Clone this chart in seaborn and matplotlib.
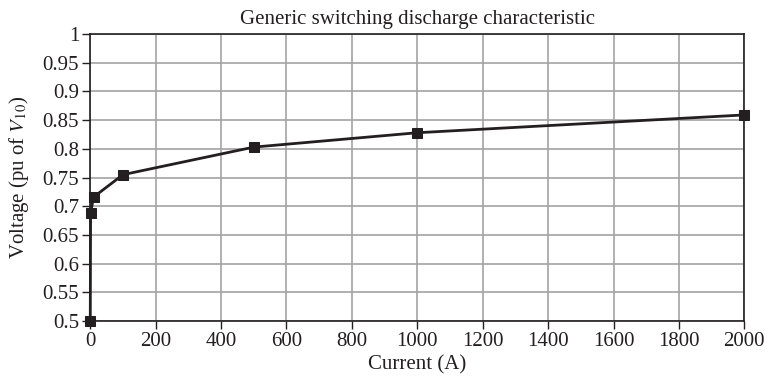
import pandas as pd
import seaborn as sns
import matplotlib.pyplot as plt

# Discharge characteristic
current = [0, 1, 10, 100, 500, 1000, 2000]
voltage = [0.5, 0.688, 0.716, 0.755, 0.803, 0.828, 0.859]

df = pd.DataFrame({'Current': current, 'Voltage': voltage})

sns.set_style('whitegrid')
plt.rcParams['font.family'] = ['Liberation Serif', 'DejaVu Serif']
plt.rcParams['mathtext.fontset'] = 'stix'

fig = plt.figure(figsize=(7.65, 3.81), dpi=100)
ax = fig.add_axes([0.118, 0.157, 0.855, 0.754])

sns.lineplot(data=df, x='Current', y='Voltage', ax=ax, color='#231f20',
             marker='s', markersize=7.5, markeredgecolor='#231f20', linewidth=2,
             sort=False, clip_on=False, zorder=5)

ax.set_xlim(0, 2000)
ax.set_ylim(0.5, 1)
ax.set_xticks(range(0, 2001, 200))
ax.set_yticks([0.5 + 0.05 * i for i in range(11)])
ax.set_yticklabels(['0.5', '0.55', '0.6', '0.65', '0.7', '0.75', '0.8',
                    '0.85', '0.9', '0.95', '1'])
ax.grid(True, color='#a3a3a3', linewidth=1.2)
for s in ax.spines.values():
    s.set_color('#231f20')
    s.set_linewidth(1.2)
ax.tick_params(axis='both', labelsize=15, colors='#231f20', length=6,
               width=1, direction='out', left=True, bottom=True, pad=2)

ax.set_title('Generic switching discharge characteristic', fontsize=15,
             color='#231f20', pad=7)
ax.set_xlabel('Current (A)', fontsize=15, color='#231f20', labelpad=3)
ax.set_ylabel('Voltage (pu of $V_{10}$)', fontsize=15, color='#231f20', labelpad=8)

fig.savefig('out.png', dpi=100)
